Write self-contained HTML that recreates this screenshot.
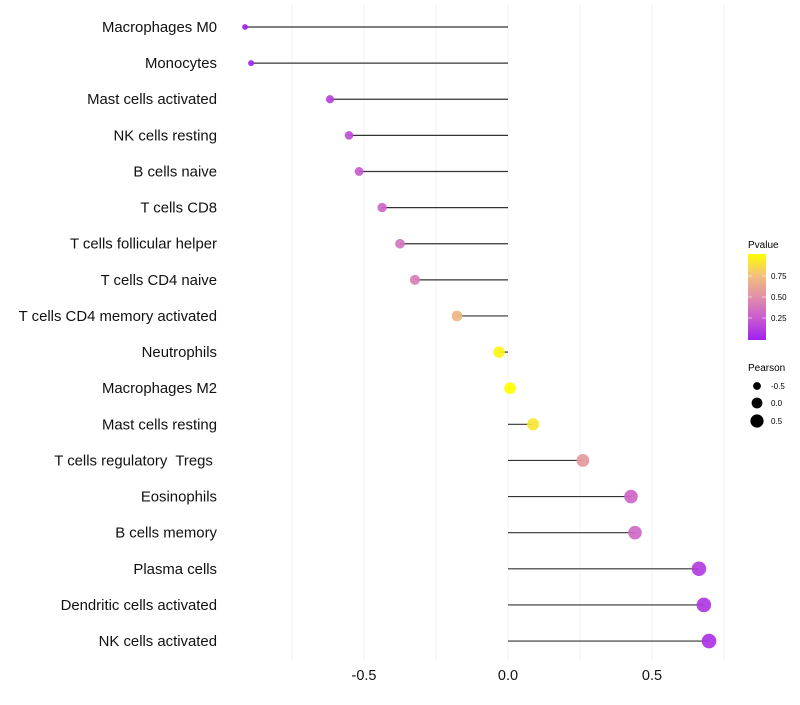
<!DOCTYPE html>
<html><head><meta charset="utf-8"><style>
body{margin:0;background:#fff;}
svg text{font-family:"Liberation Sans",sans-serif;white-space:pre;}
</style></head><body>
<svg id="chart" width="800" height="700">
<defs><linearGradient id="pg" x1="0" y1="1" x2="0" y2="0">
<stop offset="0" stop-color="#a020f0"/><stop offset="0.25" stop-color="#c85ad0"/>
<stop offset="0.5" stop-color="#e08fa8"/><stop offset="0.75" stop-color="#f2c07c"/>
<stop offset="1" stop-color="#ffff00"/></linearGradient></defs>
<g id="grid"></g><g id="marks"></g><g id="labels"></g>
<g>
<text x="748" y="248" font-size="10">Pvalue</text>
<rect x="748" y="254" width="18" height="86" fill="url(#pg)"/>
<line x1="748" x2="752" y1="276" y2="276" stroke="#fff" opacity=".6"/><line x1="762" x2="766" y1="276" y2="276" stroke="#fff" opacity=".6"/>
<line x1="748" x2="752" y1="297" y2="297" stroke="#fff" opacity=".6"/><line x1="762" x2="766" y1="297" y2="297" stroke="#fff" opacity=".6"/>
<line x1="748" x2="752" y1="318" y2="318" stroke="#fff" opacity=".6"/><line x1="762" x2="766" y1="318" y2="318" stroke="#fff" opacity=".6"/>
<text x="771" y="279" font-size="8">0.75</text>
<text x="771" y="300" font-size="8">0.50</text>
<text x="771" y="321" font-size="8">0.25</text>
<text x="748" y="371" font-size="10">Pearson</text>
<circle cx="757" cy="386" r="3.9" fill="#000"/><text x="771" y="389" font-size="8">-0.5</text>
<circle cx="757" cy="403" r="5.4" fill="#000"/><text x="771" y="406" font-size="8">0.0</text>
<circle cx="757" cy="421" r="6.6" fill="#000"/><text x="771" y="424" font-size="8">0.5</text>
</g>
</svg>
<script>
const categories=["Macrophages M0","Monocytes","Mast cells activated","NK cells resting","B cells naive","T cells CD8","T cells follicular helper","T cells CD4 naive","T cells CD4 memory activated","Neutrophils","Macrophages M2","Mast cells resting","T cells regulatory  Tregs ","Eosinophils","B cells memory","Plasma cells","Dendritic cells activated","NK cells activated"];
const pearson=[-0.913,-0.892,-0.618,-0.552,-0.517,-0.437,-0.375,-0.323,-0.177,-0.031,0.007,0.087,0.26,0.427,0.441,0.663,0.68,0.698];
const pvalues=[0.0,0.02,0.15,0.2,0.25,0.3,0.38,0.42,0.7,0.95,1.0,0.9,0.55,0.3,0.32,0.12,0.1,0.08];
const xTicks=[-0.5,0,0.5];
const xTickLabels=["-0.5","0.0","0.5"];
const gridVals=[-0.75,-0.5,-0.25,0,0.25,0.5,0.75];
const NS="http://www.w3.org/2000/svg";
const x=v=>508+v*288;
const y=i=>27+i*36.12;
const rad=v=>Math.sqrt(Math.max(34+28*v,3));
const stops=[[0,[160,32,240]],[0.25,[200,90,208]],[0.5,[224,143,168]],[0.75,[242,192,124]],[1,[255,255,0]]];
function col(p){for(let k=1;k<stops.length;k++){if(p<=stops[k][0]){const a=stops[k-1],b=stops[k],t=(p-a[0])/(b[0]-a[0]);return "rgb("+a[1].map((c,j)=>Math.round(c+(b[1][j]-c)*t)).join(",")+")";}}return "rgb(255,255,0)";}
function mk(tag,at,parent){const e=document.createElementNS(NS,tag);for(const k in at)e.setAttribute(k,at[k]);document.getElementById(parent).appendChild(e);return e;}
gridVals.forEach(v=>{const l=mk("line",{x1:x(v),x2:x(v),y1:5,y2:661,stroke:"#f0f0f0","stroke-width":1},"grid");

});
xTicks.forEach((v,i)=>{const t=mk("text",{x:x(v),y:680,"font-size":14.5,"text-anchor":"middle",fill:"#111"},"labels");t.textContent=xTickLabels[i];

});
categories.forEach((c,i)=>{
const t=mk("text",{x:217,y:y(i)+5,"font-size":14.9,"text-anchor":"end",fill:"#111"},"labels");t.textContent=c;


const l=mk("line",{x1:x(0),x2:x(pearson[i]),y1:y(i),y2:y(i),stroke:"#333","stroke-width":1.2},"marks");


const d=mk("circle",{cx:x(pearson[i]),cy:y(i),r:rad(pearson[i]),fill:col(pvalues[i]),"fill-opacity":0.92},"marks");


});
</script>
</body></html>
